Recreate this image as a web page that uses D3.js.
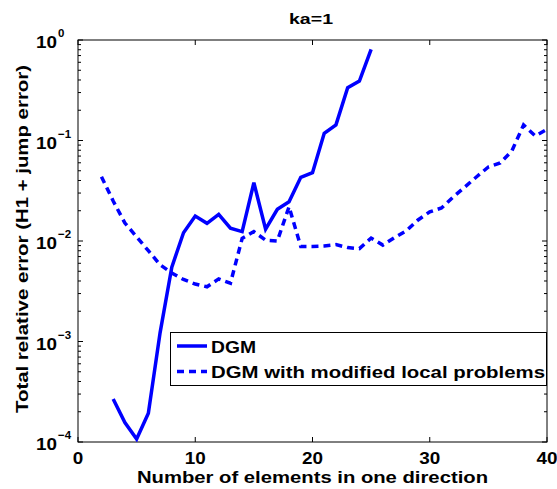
<!DOCTYPE html>
<html>
<head>
<meta charset="utf-8">
<script src="https://cdn.jsdelivr.net/npm/d3@7"></script>
<style>
  body { margin: 0; background: #fff; }
  svg text { font-family: "Liberation Sans", Arial, sans-serif; font-weight: bold; fill: #000; }
</style>
</head>
<body>
<svg id="chart" width="557" height="489"></svg>
<script>
// ---- data ----
const dgmX = [3,4,5,6,7,8,9,10,11,12,13,14,15,16,17,18,19,20,21,22,23,24,25];
const dgmY = [2.68e-4,1.56e-4,1.07e-4,1.93e-4,1.22e-3,5.5e-3,0.0121,0.0177,0.0150,0.0184,0.0134,0.0124,0.038,0.0131,0.0207,0.0246,0.043,0.0478,0.118,0.143,0.335,0.391,0.807];
const modX = [2,3,4,5,6,7,8,9,10,11,12,13,14,15,16,17,18,19,20,21,22,23,24,25,26,27,28,29,30,31,32,33,34,35,36,37,38,39,40];
const modY = [0.0436,0.025,0.0151,0.011,0.008,0.0058,0.0048,0.00414,0.00373,0.0035,0.0042,0.0038,0.0106,0.0124,0.0102,0.0100,0.0219,0.0088,0.0088,0.0089,0.0092,0.0086,0.0084,0.0107,0.0091,0.0108,0.0126,0.0162,0.0195,0.0213,0.0274,0.0345,0.0436,0.0545,0.0597,0.0786,0.1426,0.111,0.129];
const xTicks = [0,10,20,30,40];
const yTicks = [1e-4,1e-3,1e-2,1e-1,1];
const yTickExp = ["\u22124","\u22123","\u22122","\u22121","0"];
const seriesNames = ["DGM","DGM with modified local problems"];
const titleText = "ka=1";
const xLabel = "Number of elements in one direction";
const yLabel = "Total relative error (H1 + jump error)";

// ---- layout ----
const L = 78, R = 547, T = 40, B = 442;
const svg = d3.select("#chart");
const x = d3.scaleLinear().domain([0,40]).range([L,R]);
const y = d3.scaleLog().domain([1e-4,1]).range([B,T]);

// minor ticks
const minor = [];
for (let e = -4; e < 0; e++) for (let m = 2; m <= 9; m++) minor.push(m * Math.pow(10, e));

const ax = svg.append("g").attr("stroke", "#000").attr("stroke-width", 1).attr("fill", "none");
ax.append("rect").attr("x", L).attr("y", T).attr("width", R - L).attr("height", B - T);
xTicks.forEach(t => {
  ax.append("line").attr("x1", x(t)).attr("x2", x(t)).attr("y1", B).attr("y2", B - 5);
  ax.append("line").attr("x1", x(t)).attr("x2", x(t)).attr("y1", T).attr("y2", T + 5);
});
yTicks.forEach(t => {
  ax.append("line").attr("x1", L).attr("x2", L + 5).attr("y1", y(t)).attr("y2", y(t));
  ax.append("line").attr("x1", R).attr("x2", R - 5).attr("y1", y(t)).attr("y2", y(t));
});
minor.forEach(t => {
  ax.append("line").attr("x1", L).attr("x2", L + 3).attr("y1", y(t)).attr("y2", y(t));
  ax.append("line").attr("x1", R).attr("x2", R - 3).attr("y1", y(t)).attr("y2", y(t));
});

// x tick labels
svg.append("g").selectAll("text").data(xTicks).join("text")
  .attr("x", d => x(d)).attr("y", B + 22).attr("text-anchor", "middle")
  .attr("font-size", 16).attr("textLength", d => String(d).length * 10.5)
  .attr("lengthAdjust", "spacingAndGlyphs").text(d => d);

// y tick labels
yTicks.forEach((t, i) => {
  const g = svg.append("g");
  g.append("text").attr("x", 36).attr("y", y(t) + 8).attr("text-anchor", "start")
    .attr("font-size", 17).attr("textLength", 21).attr("lengthAdjust", "spacingAndGlyphs").text("10");
  g.append("text").attr("x", 58).attr("y", y(t) - 3).attr("text-anchor", "start")
    .attr("font-size", 11.5).text(yTickExp[i]);
});

// title and labels
svg.append("text").attr("x", 289).attr("y", 24).attr("text-anchor", "start")
  .attr("font-size", 15).attr("textLength", 44).attr("lengthAdjust", "spacingAndGlyphs").text(titleText);
svg.append("text").attr("x", 137).attr("y", 483).attr("text-anchor", "start")
  .attr("font-size", 16.5).attr("textLength", 351).attr("lengthAdjust", "spacingAndGlyphs").text(xLabel);
svg.append("text").attr("transform", `translate(28,413) rotate(-90)`)
  .attr("text-anchor", "start").attr("font-size", 17)
  .attr("textLength", 348).attr("lengthAdjust", "spacingAndGlyphs").text(yLabel);

// lines
const line = d3.line().x(d => x(d[0])).y(d => y(d[1]));
svg.append("clipPath").attr("id", "clip").append("rect")
  .attr("x", L).attr("y", T).attr("width", R - L).attr("height", B - T);
const plot = svg.append("g").attr("clip-path", "url(#clip)");
plot.append("path").datum(dgmX.map((v, i) => [v, dgmY[i]]))
  .attr("d", line).attr("fill", "none").attr("stroke", "#0000ff")
  .attr("stroke-width", 3.5).attr("stroke-linejoin", "miter");
plot.append("path").datum(modX.map((v, i) => [v, modY[i]]))
  .attr("d", line).attr("fill", "none").attr("stroke", "#0000ff")
  .attr("stroke-width", 3.5).attr("stroke-dasharray", "7,5");

// legend
const lg = svg.append("g");
lg.append("rect").attr("x", 170.5).attr("y", 332.5).attr("width", 376).attr("height", 53)
  .attr("fill", "#fff").attr("stroke", "#000").attr("stroke-width", 1);
const rows = [{ y: 346, dash: null, w: 45 }, { y: 371.5, dash: "7,5", w: 334 }];
rows.forEach((r, i) => {
  const ln = lg.append("line").attr("x1", 177).attr("x2", 207).attr("y1", r.y).attr("y2", r.y)
    .attr("stroke", "#0000ff").attr("stroke-width", 3.5);
  if (r.dash) ln.attr("stroke-dasharray", r.dash);
  lg.append("text").attr("x", 211).attr("y", r.y + 6.5).attr("font-size", 17)
    .attr("textLength", r.w).attr("lengthAdjust", "spacingAndGlyphs").text(seriesNames[i]);
});
</script>
</body>
</html>
